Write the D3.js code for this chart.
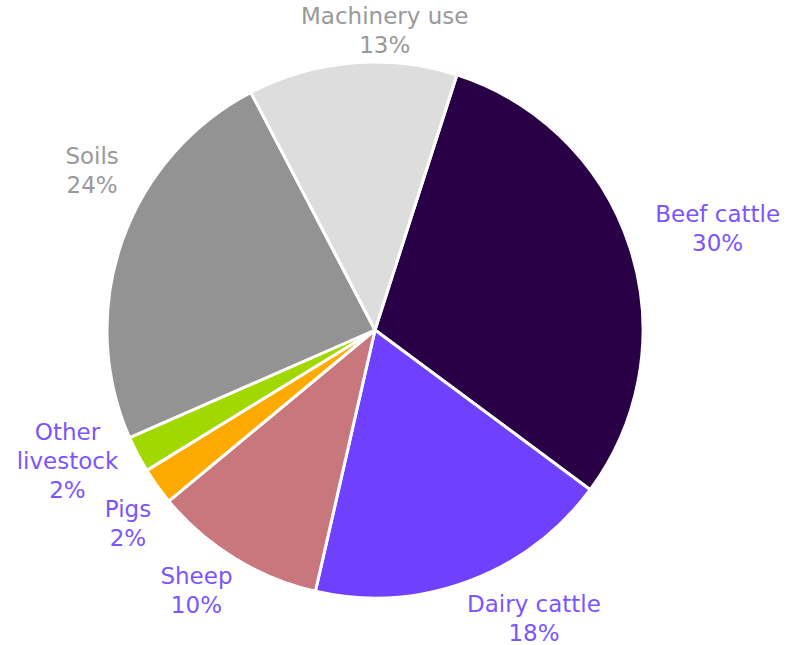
<!DOCTYPE html>
<html>
<head>
<meta charset="utf-8">
<script src="https://cdn.jsdelivr.net/npm/d3@7"></script>
<style>
  body { margin: 0; background: #fff; }
  text { font-family: "DejaVu Sans", sans-serif; font-size: 23px; }
</style>
</head>
<body>
<div id="vis"></div>
<script>
// categories and shares (percent), clockwise from the top right
const categories = ["Beef cattle", "Dairy cattle", "Sheep", "Pigs", "Other livestock", "Soils", "Machinery use"]
const values = [30.2, 18.4, 10.4, 2.25, 2.2, 23.9, 12.6]
const labelLines = [["Beef cattle"], ["Dairy cattle"], ["Sheep"], ["Pigs"], ["Other", "livestock"], ["Soils"], ["Machinery use"]]

const colors = ["#290045", "#7040ff", "#c8777d", "#ffaa00", "#a0d800", "#939393", "#dddddd"]
const labelColors = ["#7b55ff", "#7b55ff", "#7b55ff", "#7b55ff", "#7b55ff", "#999999", "#999999"]

//label placement: radial anchor plus a small hand nudge per slice
const labelRadius = 320
const labelNudge = {
    "Beef cattle": [38, -10],
    "Dairy cattle": [48, -18],
    "Sheep": [-11, -19],
    "Pigs": [13, 1],
    "Other livestock": [-24, -38],
    "Soils": [19, -60],
    "Machinery use": [37, 13]
}

const width = 801
const height = 645
const radius = 268
const cx = 375
const cy = 330
const startOffset = 17.8 * Math.PI / 180

const data = categories.map((c, i) => ({ name: c, value: values[i], lines: labelLines[i], i: i }))

const svg = d3.select("#vis")
    .append("svg")
    .attr("width", width)
    .attr("height", height)

const g = svg.append("g")
    .attr("transform", `translate(${cx}, ${cy})`)

const pie = d3.pie()
    .sort(null)
    .value(d => d.value)
    .startAngle(startOffset)
    .endAngle(startOffset + 2 * Math.PI)

const arc = d3.arc()
    .outerRadius(radius)
    .innerRadius(0)

const arcs = pie(data)

g.selectAll(".slice")
    .data(arcs)
    .enter()
    .append("path")
    .attr("class", "slice")
    .attr("d", arc)
    .attr("fill", d => colors[d.data.i])
    .attr("stroke", "#fff")
    .attr("stroke-width", 3)
    .attr("stroke-linejoin", "round")

const lineHeight = 29

const labels = g.selectAll(".label")
    .data(arcs)
    .enter()
    .append("text")
    .attr("class", "label")
    .attr("fill", d => labelColors[d.data.i])
    .attr("text-anchor", "middle")
    .attr("transform", d => {
        const a = (d.startAngle + d.endAngle) / 2
        const n = labelNudge[d.data.name]
        const x = labelRadius * Math.sin(a) + n[0]
        const y = -labelRadius * Math.cos(a) + n[1]
        return `translate(${x}, ${y})`
    })

labels.each(function (d) {
    const t = d3.select(this)
    const lines = d.data.lines.concat([Math.round(d.data.value) + "%"])
    lines.forEach((l, k) => {
        t.append("tspan")
            .attr("x", 0)
            .attr("y", k * lineHeight)
            .text(l)
    })
})
</script>
</body>
</html>
